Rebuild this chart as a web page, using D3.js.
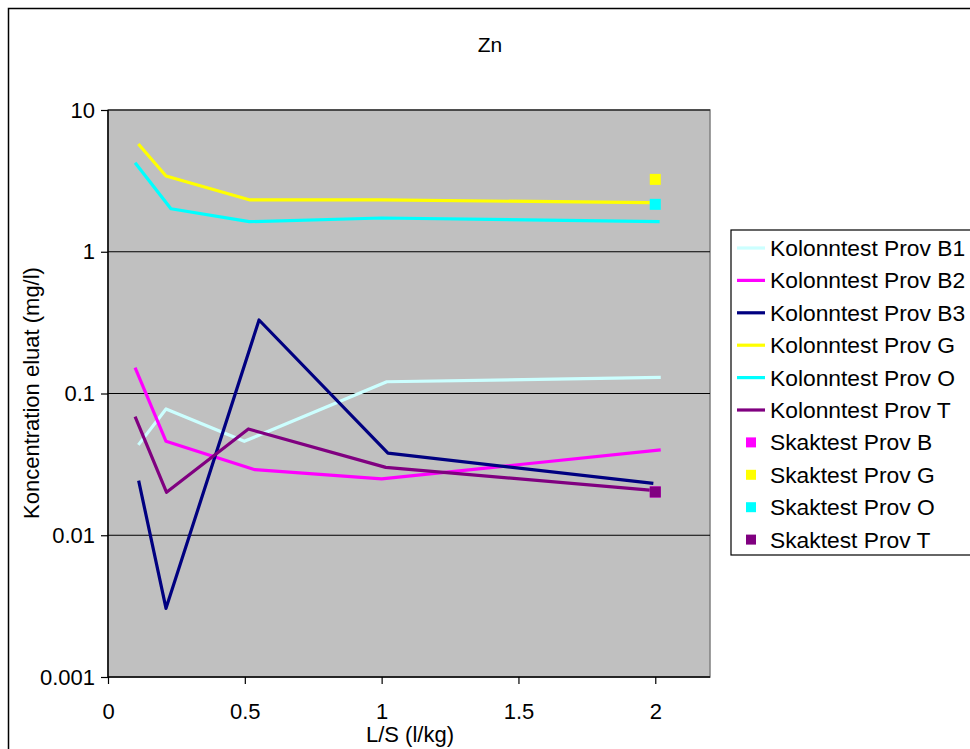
<!DOCTYPE html>
<html><head><meta charset="utf-8">
<script src="https://cdn.jsdelivr.net/npm/d3@7"></script>
<style>body{margin:0;background:#fff}svg{display:block}text{font-family:"Liberation Sans",Arial,sans-serif}</style>
</head><body>
<svg id="c" width="970" height="749"></svg>
<script>
const lineNames = ["Kolonntest Prov B1","Kolonntest Prov B2","Kolonntest Prov B3","Kolonntest Prov G","Kolonntest Prov O","Kolonntest Prov T"];
const lineColors = ["#CCFFFF","#FF00FF","#000080","#FFFF00","#00FFFF","#800080"];
const xB1 = [0.111,0.212,0.498,1.019,2.02];  const yB1 = [0.0434,0.0778,0.046,0.121,0.13];
const xB2 = [0.099,0.212,0.537,1.0,2.02];    const yB2 = [0.152,0.046,0.029,0.025,0.040];
const xB3 = [0.112,0.212,0.552,1.023,1.993]; const yB3 = [0.0243,0.00305,0.33,0.038,0.0232];
const xG  = [0.111,0.212,0.519,1.0,1.98];    const yG  = [5.75,3.42,2.32,2.32,2.22];
const xO  = [0.099,0.230,0.516,1.0,2.016];   const yO  = [4.25,2.01,1.63,1.73,1.63];
const xT  = [0.099,0.214,0.513,1.015,1.98];  const yT  = [0.0687,0.0201,0.0562,0.0301,0.0208];
const lineX = [xB1,xB2,xB3,xG,xO,xT];
const lineY = [yB1,yB2,yB3,yG,yO,yT];
const markNames = ["Skaktest Prov B","Skaktest Prov G","Skaktest Prov O","Skaktest Prov T"];
const markColors = ["#FF00FF","#FFFF00","#00FFFF","#800080"];
const markX = [2,2,2,2];
const markY = [0.0202,3.24,2.16,0.0202];
const xTicks = [0,0.5,1,1.5,2];
const yTicks = [0.001,0.01,0.1,1,10];

const svg = d3.select("#c");
const L=108,R=710,T=110,B=677;
const x = d3.scaleLinear().domain([0,2.2]).range([L,R]);
const y = d3.scaleLog().domain([0.001,10]).range([B,T]);

// outer border
svg.append("rect").attr("x",8.5).attr("y",8.5).attr("width",980).attr("height",780)
  .attr("fill","none").attr("stroke","#000").attr("stroke-width",1.5);

svg.append("rect").attr("x",L).attr("y",T).attr("width",R-L).attr("height",B-T)
  .attr("fill","#C0C0C0").attr("stroke","#808080").attr("stroke-width",1.5);

// gridlines
svg.append("g").selectAll("line").data(yTicks.slice(1)).join("line")
  .attr("x1",L).attr("x2",R).attr("y1",d=>y(d)).attr("y2",d=>y(d))
  .attr("stroke","#000").attr("stroke-width",1.2);

const yAxis = d3.axisLeft(y).tickValues(yTicks).tickFormat(d=>String(d)).tickSize(7).tickPadding(6);
const gy = svg.append("g").attr("transform",`translate(${L},0)`).call(yAxis);
const xAxis = d3.axisBottom(x).tickValues(xTicks).tickFormat(d=>String(d)).tickSize(7).tickPadding(19);
const gx = svg.append("g").attr("transform",`translate(0,${B})`).call(xAxis);
[gx,gy].forEach(g=>{
  g.select(".domain").attr("stroke","#000").attr("stroke-width",1.5);
  g.selectAll(".tick line").attr("stroke","#000").attr("stroke-width",1.2);
  g.selectAll("text").attr("font-size",22).attr("fill","#000").style("font-family","Liberation Sans, Arial, sans-serif");
});
gx.select(".domain").attr("d",`M${L},0H${R}`);
gy.select(".domain").attr("d",`M0,${B}V${T}`);

const line = d3.line().x(d=>x(d[0])).y(d=>y(d[1]));
lineNames.forEach((n,i)=>{
  svg.append("path").datum(lineX[i].map((v,j)=>[v,lineY[i][j]]))
    .attr("d",line).attr("fill","none").attr("stroke",lineColors[i]).attr("stroke-width",3.2)
    .attr("stroke-linejoin","round");
});
markNames.forEach((n,i)=>{
  svg.append("rect").attr("x",x(markX[i])-5.5).attr("y",y(markY[i])-5.5)
    .attr("width",11).attr("height",11).attr("fill",markColors[i]);
});

svg.append("text").attr("x",490).attr("y",52).attr("text-anchor","middle").attr("font-size",21).text("Zn");
svg.append("text").attr("x",410).attr("y",742).attr("text-anchor","middle").attr("font-size",22).text("L/S (l/kg)");
svg.append("text").attr("transform","translate(39,393) rotate(-90)").attr("text-anchor","middle").attr("font-size",22).text("Koncentration eluat (mg/l)");

// legend
const lg = svg.append("g");
lg.append("rect").attr("x",731).attr("y",230).attr("width",250).attr("height",325)
  .attr("fill","#fff").attr("stroke","#000").attr("stroke-width",1.2);
const rowY = i=>248+i*32.4;
lineNames.forEach((n,i)=>{
  lg.append("line").attr("x1",737).attr("x2",765).attr("y1",rowY(i)).attr("y2",rowY(i))
    .attr("stroke",lineColors[i]).attr("stroke-width",3.2);
  lg.append("text").attr("x",770).attr("y",rowY(i)+8).attr("font-size",22.8).text(n);
});
markNames.forEach((n,i)=>{
  const k=i+6;
  lg.append("rect").attr("x",746).attr("y",rowY(k)-5).attr("width",10).attr("height",10).attr("fill",markColors[i]);
  lg.append("text").attr("x",770).attr("y",rowY(k)+8).attr("font-size",22.8).text(n);
});
</script>
</body></html>
